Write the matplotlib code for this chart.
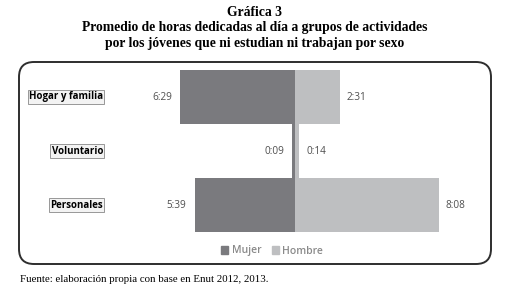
import matplotlib
matplotlib.use("Agg")
import matplotlib.pyplot as plt
from matplotlib.patches import FancyBboxPatch, Patch
from matplotlib.transforms import blended_transform_factory

# minutes per day
categorias = ["Hogar y familia", "Voluntario", "Personales"]
mujer = [389, 9, 339]     # 6:29, 0:09, 5:39
hombre = [151, 14, 488]   # 2:31, 0:14, 8:08

c_mujer = "#7a7a7e"
c_hombre = "#bebfc1"
c_texto = "#4f4f4f"


def hhmm(m):
    return f"{m // 60}:{m % 60:02d}"


W, H = 509, 307
fig = plt.figure(figsize=(W / 100, H / 100), dpi=100)
fig.patch.set_facecolor("white")

# background axes in pixel units for the rounded frame
bg = fig.add_axes([0, 0, 1, 1])
bg.set_xlim(0, W)
bg.set_ylim(H, 0)
bg.axis("off")
bg.add_patch(FancyBboxPatch((19, 62), 472, 202,
                            boxstyle="round,pad=0,rounding_size=15",
                            fc="white", ec="#2e2e2e", lw=1.4))

serif = "Liberation Serif"
fig.text(0.5, 1 - 12 / H, "Gráfica 3", ha="center", va="center",
         family=serif, weight="bold", fontsize=9.8)
fig.text(0.5, 1 - 27 / H,
         "Promedio de horas dedicadas al día a grupos de actividades",
         ha="center", va="center", family=serif, weight="bold", fontsize=9.8)
fig.text(0.5, 1 - 43 / H,
         "por los jóvenes que ni estudian ni trabajan por sexo",
         ha="center", va="center", family=serif, weight="bold", fontsize=9.8)
fig.text(20 / W, 1 - 280 / H,
         "Fuente: elaboración propia con base en Enut 2012, 2013.",
         ha="left", va="center", family=serif, fontsize=7.8)

# bar axes: centre at x=295 px
ax = fig.add_axes([110 / W, 1 - 232 / H, 370 / W, 162 / H])
ax.set_xlim(-627, 627)
ax.set_ylim(-0.5, 2.5)
ax.axis("off")

y = [2, 1, 0]
ax.barh(y, [-v for v in mujer], height=1.0, color=c_mujer, lw=0)
ax.barh(y, hombre, height=1.0, color=c_hombre, lw=0)

for yi, m, h in zip(y, mujer, hombre):
    ax.annotate(hhmm(m), (-m, yi), xytext=(-6, 0), textcoords="offset points",
                ha="right", va="center", fontsize=7.2, color=c_texto,
                family="Open Sans")
    ax.annotate(hhmm(h), (h, yi), xytext=(5, 0), textcoords="offset points",
                ha="left", va="center", fontsize=7.2, color=c_texto,
                family="Open Sans")

tr = blended_transform_factory(fig.transFigure, ax.transData)
for yi, cat in zip(y, categorias):
    ax.text(103 / W, yi, cat, transform=tr, ha="right", va="center",
            fontsize=7, weight="bold", family="Open Sans", color="black",
            bbox=dict(boxstyle="square,pad=0.12", fc="#f3f3f3",
                      ec="#888888", lw=0.6))

handles = [Patch(color=c_mujer, label="Mujer"),
           Patch(color=c_hombre, label="Hombre")]
leg = fig.legend(handles=handles, loc="center",
                 bbox_to_anchor=(272 / W, 1 - 251 / H), ncol=2,
                 frameon=False, handlelength=0.7,
                 handleheight=0.7, handletextpad=0.3, columnspacing=1.0,
                 labelcolor="#8a8a8a",
                 prop={"family": "Open Sans", "size": 7.5, "weight": "semibold"})

fig.savefig("out.png", dpi=100)
